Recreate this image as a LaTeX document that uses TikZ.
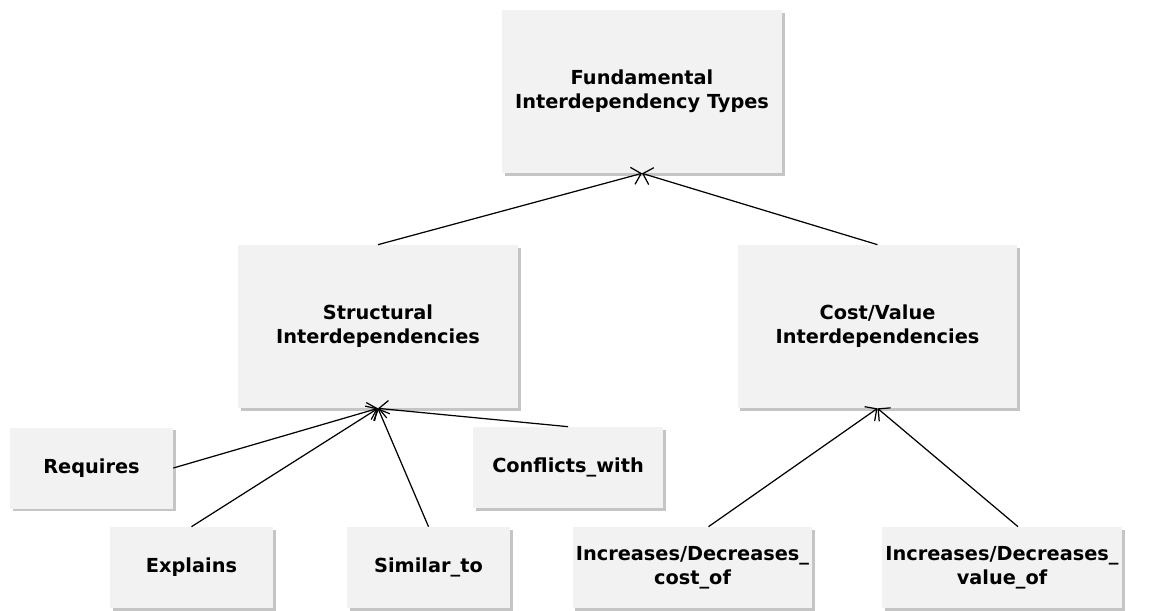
\documentclass[tikz,border=0pt]{standalone}
\usepackage{fontspec}
\setmainfont{DejaVu Sans}
\usepackage{tikz}
\usetikzlibrary{shadows, positioning, arrows.meta}

\definecolor{boxgray}{HTML}{F2F2F2}

\begin{document}
\begin{tikzpicture}[x=0.02cm, y=-0.02cm,
    >={Straight Barb[length=5pt, width=10pt]},
    every node/.style={font=\bfseries\fontsize{11}{13.8}\selectfont, align=center},
    link/.style={->, line width=0.7pt},
    box/.style={fill=boxgray, inner sep=0pt,
      drop shadow={shadow xshift=1.6pt, shadow yshift=-1.6pt, fill=black!45}},
    bigbox/.style={box, minimum width=5.6cm, minimum height=3.26cm},
    smallbox/.style={box, minimum width=3.26cm, minimum height=1.62cm},
    widebox/.style={box, minimum width=4.8cm, minimum height=1.62cm}]
  \useasboundingbox (0,0) rectangle (1152,610);

  \node[bigbox] (fund) at (642,91.5) {Fundamental\\Interdependency Types};
  \node[bigbox] (struct) at (378,326.5) {Structural\\Interdependencies};
  \node[bigbox] (cost) at (877.5,326.5) {Cost/Value\\Interdependencies};

  \node[smallbox] (req) at (91.5,468) {Requires};
  \node[smallbox, minimum width=3.8cm] (confl) at (568,467.5) {Conflicts\_with};
  \node[smallbox] (expl) at (191.5,567.5) {Explains};
  \node[smallbox] (sim) at (428.5,567.5) {Similar\_to};
  \node[widebox] (costof) at (692.5,567.5) {Increases/Decreases\_\\cost\_of};
  \node[widebox] (valof) at (1002,567.5) {Increases/Decreases\_\\value\_of};

  \draw[link] (struct.north) -- (fund.south);
  \draw[link] (cost.north) -- (fund.south);

  \draw[link] (req.east) -- (struct.south);
  \draw[link] (expl.north) -- (struct.south);
  \draw[link] (sim.north) -- (struct.south);
  \draw[link] (confl.north) -- (struct.south);

  \draw[link] ([xshift=0.32cm]costof.north) -- (cost.south);
  \draw[link] ([xshift=0.32cm]valof.north) -- (cost.south);
\end{tikzpicture}
\end{document}
